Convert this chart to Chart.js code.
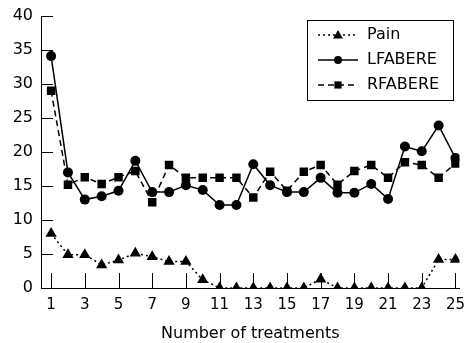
<!DOCTYPE html>
<html lang="en">
<head>
    <meta charset="UTF-8">
    <title>Number of treatments</title>
    <script src="https://cdn.jsdelivr.net/npm/chart.js"></script>
    <style>
        body {
            margin: 0;
            background: #fff;
        }
        canvas {
            display: block;
        }
    </style>
</head>
<body>
    <canvas id="treatChart" width="466" height="343"></canvas>
    <script>
        const treatments = [1, 2, 3, 4, 5, 6, 7, 8, 9, 10, 11, 12, 13, 14, 15, 16, 17, 18, 19, 20, 21, 22, 23, 24, 25];
        const pain = [8, 4.9, 4.9, 3.4, 4.1, 5.1, 4.6, 3.9, 3.9, 1.2, 0, 0, 0, 0, 0, 0, 1.3, 0, 0, 0, 0, 0, 0, 4.2, 4.2];
        const lfabere = [34.1, 17, 13, 13.5, 14.3, 18.7, 14.1, 14.1, 15.1, 14.4, 12.2, 12.2, 18.2, 15.1, 14.1, 14.1, 16.2, 14, 14, 15.3, 13.1, 20.8, 20.1, 23.9, 19.1];
        const rfabere = [29, 15.2, 16.3, 15.3, 16.3, 17.2, 12.6, 18.1, 16.2, 16.2, 16.2, 16.2, 13.3, 17.1, 14.3, 17.1, 18.1, 15.2, 17.2, 18.1, 16.2, 18.5, 18.1, 16.2, 18.3];
        const xTicks = [1, 3, 5, 7, 9, 11, 13, 15, 17, 19, 21, 23, 25];
        const yTicks = [0, 5, 10, 15, 20, 25, 30, 35, 40];
        const seriesNames = ['Pain', 'LFABERE', 'RFABERE'];

        const fontFamily = '"DejaVu Sans", sans-serif';

        function drawMarker(ctx, style, x, y, r) {
            ctx.beginPath();
            if (style === 'triangle') {
                ctx.moveTo(x, y - r);
                ctx.lineTo(x + r, y + r * 0.7);
                ctx.lineTo(x - r, y + r * 0.7);
                ctx.closePath();
            } else if (style === 'rect') {
                ctx.rect(x - r * 0.72, y - r * 0.72, r * 1.44, r * 1.44);
            } else {
                ctx.arc(x, y, r * 0.8, 0, Math.PI * 2);
            }
            ctx.fill();
        }

        // inward tick marks, like the printed figure
        const innerTicks = {
            id: 'innerTicks',
            beforeDatasetsDraw(chart) {
                const ctx = chart.ctx;
                const x = chart.scales.x;
                const y = chart.scales.y;
                ctx.save();
                ctx.strokeStyle = '#000';
                ctx.lineWidth = 1;
                ctx.beginPath();
                yTicks.forEach(v => {
                    const py = Math.round(y.getPixelForValue(v)) + 0.5;
                    ctx.moveTo(x.left, py);
                    ctx.lineTo(x.left + 12, py);
                });
                xTicks.forEach(v => {
                    const px = Math.round(x.getPixelForValue(v)) + 0.5;
                    ctx.moveTo(px, y.bottom);
                    ctx.lineTo(px, y.bottom - 15);
                });
                ctx.stroke();
                ctx.restore();
            }
        };

        // boxed legend with line sample and marker
        const boxLegend = {
            id: 'boxLegend',
            afterDraw(chart) {
                const ctx = chart.ctx;
                const left = 307, top = 20, w = 146, h = 80;
                ctx.save();
                ctx.strokeStyle = '#000';
                ctx.lineWidth = 1;
                ctx.strokeRect(left + 0.5, top + 0.5, w, h);
                ctx.font = '16px ' + fontFamily;
                ctx.textBaseline = 'middle';
                ctx.fillStyle = '#000';
                chart.data.datasets.forEach((ds, i) => {
                    const cy = top + 15 + i * 25;
                    ctx.setLineDash(ds.borderDash || []);
                    ctx.lineWidth = ds.borderWidth;
                    ctx.beginPath();
                    ctx.moveTo(left + 11, cy);
                    ctx.lineTo(left + 51, cy);
                    ctx.stroke();
                    ctx.setLineDash([]);
                    drawMarker(ctx, ds.pointStyle, left + 31, cy, 5);
                    ctx.fillText(ds.label, left + 60, cy);
                });
                ctx.restore();
            }
        };

        function makeSeries(name, values, style, dash, radius) {
            return {
                label: name,
                data: treatments.map((t, i) => ({ x: t, y: values[i] })),
                borderColor: '#000',
                backgroundColor: '#000',
                borderWidth: 1.5,
                borderDash: dash,
                pointStyle: style,
                pointRadius: radius,
                pointHoverRadius: radius,
                pointBorderWidth: 0,
                tension: 0
            };
        }

        const ctx = document.getElementById('treatChart').getContext('2d');
        const chart = new Chart(ctx, {
            type: 'line',
            data: {
                datasets: [
                    makeSeries(seriesNames[0], pain, 'triangle', [2, 3], 6.5),
                    makeSeries(seriesNames[1], lfabere, 'circle', [], 5),
                    makeSeries(seriesNames[2], rfabere, 'rect', [6, 4], 6)
                ]
            },
            options: {
                responsive: false,
                animation: false,
                layout: { padding: { top: 16, right: 0, left: 0, bottom: 0 } },
                plugins: {
                    legend: { display: false },
                    tooltip: { enabled: false }
                },
                scales: {
                    x: {
                        type: 'linear',
                        min: 0.4,
                        max: 25.24,
                        afterBuildTicks: s => { s.ticks = xTicks.map(v => ({ value: v })); },
                        afterFit: s => { s.height = 55; s.paddingLeft = 0; s.paddingRight = 0; },
                        grid: { drawOnChartArea: false, drawTicks: false },
                        border: { color: '#000', width: 1 },
                        ticks: {
                            color: '#000',
                            font: { family: fontFamily, size: 15 },
                            padding: 8,
                            maxRotation: 0,
                            autoSkip: false
                        },
                        title: {
                            display: true,
                            text: 'Number of treatments',
                            color: '#000',
                            font: { family: fontFamily, size: 16 },
                            padding: { top: 6, bottom: 0 }
                        }
                    },
                    y: {
                        min: 0,
                        max: 40,
                        afterBuildTicks: s => { s.ticks = yTicks.map(v => ({ value: v })); },
                        afterFit: s => { s.width = 41; s.paddingTop = 0; s.paddingBottom = 0; },
                        grid: { drawOnChartArea: false, drawTicks: false },
                        border: { color: '#000', width: 1 },
                        ticks: {
                            color: '#000',
                            font: { family: fontFamily, size: 16 },
                            padding: 8
                        }
                    }
                }
            },
            plugins: [innerTicks, boxLegend]
        });
    </script>
</body>
</html>
